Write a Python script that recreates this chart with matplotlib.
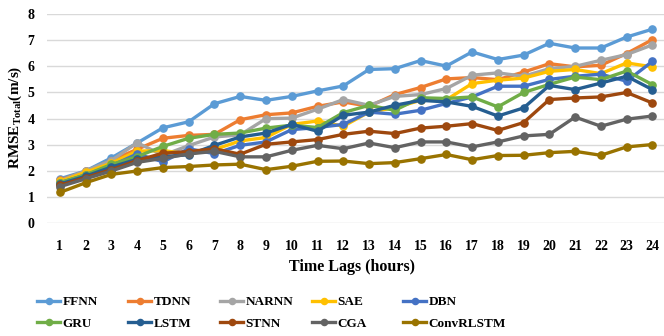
import matplotlib
matplotlib.use("Agg")
import matplotlib.pyplot as plt

# time lags on x axis
lags = list(range(1, 25))

# RMSE values per model
FFNN = [1.70, 2.00, 2.50, 3.07, 3.65, 3.88, 4.57, 4.85, 4.70, 4.85, 5.06, 5.25,
        5.88, 5.91, 6.22, 6.01, 6.55, 6.26, 6.43, 6.88, 6.70, 6.70, 7.12, 7.42]
TDNN = [1.65, 1.98, 2.40, 2.83, 3.25, 3.36, 3.40, 3.96, 4.15, 4.22, 4.47, 4.64,
        4.47, 4.92, 5.19, 5.52, 5.57, 5.49, 5.78, 6.10, 5.98, 6.04, 6.49, 7.02]
NARNN = [1.62, 2.00, 2.40, 3.08, 2.60, 2.97, 3.30, 3.38, 4.00, 4.02, 4.36, 4.73,
         4.51, 4.85, 4.92, 5.15, 5.66, 5.75, 5.62, 5.91, 6.00, 6.23, 6.45, 6.82]
SAE = [1.60, 1.95, 2.30, 2.76, 2.78, 2.65, 2.82, 3.15, 3.28, 3.78, 3.91, 3.71,
       4.25, 4.42, 4.70, 4.72, 5.34, 5.47, 5.55, 5.81, 5.88, 5.72, 6.13, 5.98]
DBN = [1.55, 1.85, 2.20, 2.65, 2.35, 2.85, 2.66, 2.98, 3.11, 3.58, 3.66, 3.78,
       4.25, 4.17, 4.32, 4.58, 4.83, 5.24, 5.24, 5.50, 5.62, 5.70, 5.43, 6.19]
GRU = [1.55, 1.85, 2.25, 2.55, 2.94, 3.25, 3.40, 3.45, 3.64, 3.75, 3.66, 4.23,
       4.51, 4.32, 4.80, 4.77, 4.83, 4.45, 5.00, 5.31, 5.59, 5.49, 5.82, 5.30]
LSTM = [1.50, 1.80, 2.15, 2.45, 2.55, 2.62, 2.98, 3.30, 3.45, 3.78, 3.52, 4.13,
        4.25, 4.51, 4.70, 4.64, 4.47, 4.10, 4.41, 5.27, 5.11, 5.36, 5.62, 5.11]
STNN = [1.45, 1.75, 2.05, 2.40, 2.68, 2.74, 2.85, 2.64, 3.02, 3.11, 3.20, 3.40,
        3.52, 3.43, 3.64, 3.71, 3.81, 3.55, 3.85, 4.73, 4.79, 4.83, 5.00, 4.60]
CGA = [1.40, 1.70, 2.00, 2.33, 2.48, 2.65, 2.75, 2.54, 2.54, 2.79, 2.98, 2.85,
       3.07, 2.89, 3.11, 3.11, 2.92, 3.11, 3.34, 3.40, 4.06, 3.71, 3.98, 4.10]
ConvRLSTM = [1.18, 1.55, 1.87, 2.00, 2.13, 2.17, 2.23, 2.26, 2.05, 2.18, 2.37, 2.38,
             2.28, 2.32, 2.47, 2.63, 2.43, 2.59, 2.60, 2.70, 2.75, 2.60, 2.92, 3.01]

names = ["FFNN", "TDNN", "NARNN", "SAE", "DBN", "GRU", "LSTM", "STNN", "CGA", "ConvRLSTM"]
series = [FFNN, TDNN, NARNN, SAE, DBN, GRU, LSTM, STNN, CGA, ConvRLSTM]
colors = ["#5B9BD5", "#ED7D31", "#A5A5A5", "#FFC000", "#4472C4",
          "#70AD47", "#255E91", "#9E480E", "#636363", "#997300"]

plt.rcParams["font.family"] = "Liberation Serif"
plt.rcParams["font.weight"] = "bold"
plt.rcParams["mathtext.fontset"] = "custom"
plt.rcParams["mathtext.rm"] = "Liberation Serif:bold"
plt.rcParams["mathtext.bf"] = "Liberation Serif:bold"

fig = plt.figure(figsize=(6.64, 3.36), dpi=100)
ax = fig.add_axes([47 / 664, 1 - 223.3 / 336, 617 / 664, (223.3 - 14) / 336])

lines = []
for name, vals, c in zip(names, series, colors):
    ln, = ax.plot(lags, vals, color=c, lw=2.4, marker="o", ms=5.2, label=name,
                  solid_joinstyle="round")
    lines.append(ln)

ax.set_xlim(0.5, 24.45)
ax.set_ylim(0, 8)
ax.set_xticks(lags)
ax.set_yticks(range(0, 9))
ax.tick_params(length=0, labelsize=10, pad=12)
ax.tick_params(axis="y", pad=9)
for lab in ax.get_xticklabels() + ax.get_yticklabels():
    lab.set_fontweight("bold")
ax.grid(axis="y", color="#D9D9D9", lw=1)
ax.set_axisbelow(True)
for s in ax.spines.values():
    s.set_visible(False)

fig.text(352 / 664, 1 - 267 / 336, "Time Lags (hours)", ha="center", va="center",
         fontsize=11.5, fontweight="bold")
fig.text(15 / 664, 1 - 117 / 336, r"RMSE$_{\mathbf{Total}}$(m/s)", rotation=90,
         ha="center", va="center", fontsize=11, fontweight="bold")

# legend: one small legend per column so the columns sit evenly
col_x = [37, 128, 220, 312, 403]
for i, x0 in enumerate(col_x):
    h = [lines[i], lines[i + 5]]
    fig.legend(handles=h, labels=[names[i], names[i + 5]], loc="upper left",
               bbox_to_anchor=(x0 / 664, 1 - 296 / 336), frameon=False,
               borderpad=0, borderaxespad=0, handlelength=1.75, handletextpad=0.2,
               labelspacing=0.72, numpoints=1, markerscale=0.85,
               prop={"size": 9.5, "weight": "bold"})

fig.savefig("out.png", dpi=100)
